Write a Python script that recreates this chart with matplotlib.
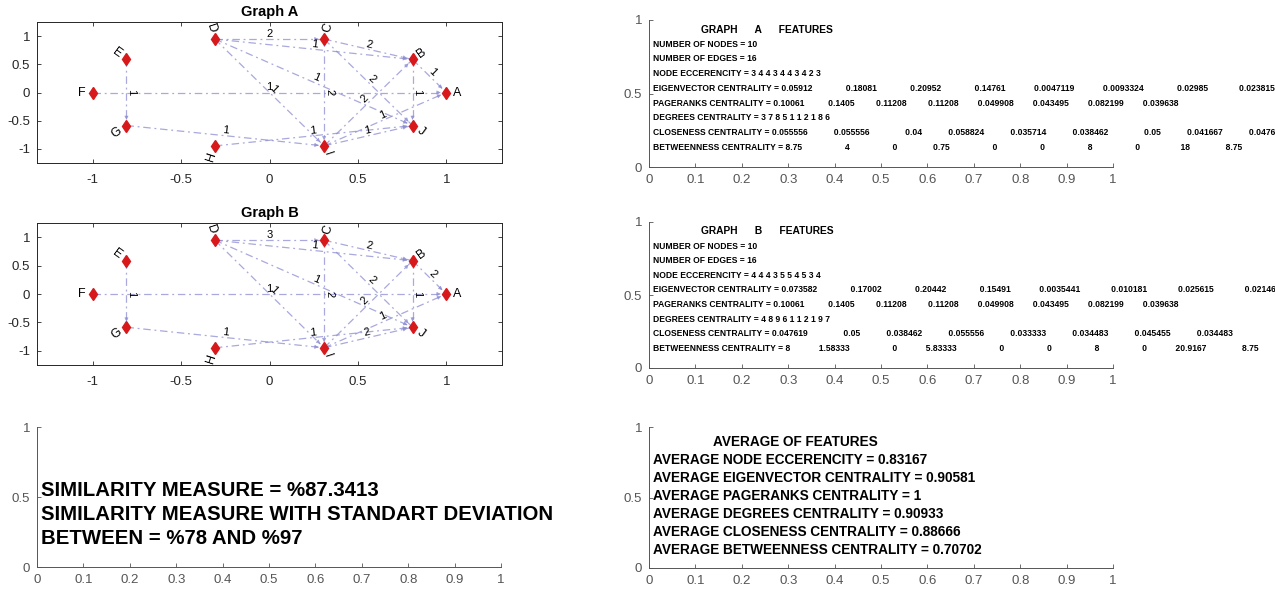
import numpy as np
import matplotlib
matplotlib.use('Agg')
import matplotlib.pyplot as plt
from matplotlib import font_manager

# ---- graph data (same edge list in both graphs, only weights differ) ----
nodes = ['A', 'B', 'C', 'D', 'E', 'F', 'G', 'H', 'I', 'J']
src = ['D', 'D', 'C', 'B', 'F', 'C', 'D', 'D', 'C', 'I', 'I', 'I', 'G', 'H', 'E', 'B']
dst = ['C', 'B', 'B', 'A', 'A', 'I', 'I', 'J', 'J', 'B', 'A', 'J', 'I', 'J', 'G', 'J']
weights_a = [2, 1, 2, 1, 1, 2, 1, 1, 2, 2, 1, 1, 1, 1, 1, 1]
weights_b = [3, 1, 2, 2, 1, 2, 1, 1, 2, 2, 1, 2, 1, 1, 1, 1]

# ---- features of graph A ----
n_nodes_a, n_edges_a = 10, 16
ecc_a = [3, 4, 4, 3, 4, 4, 3, 4, 2, 3]
eig_a = [0.05912, 0.18081, 0.20952, 0.14761, 0.0047119, 0.0093324, 0.02985, 0.023815]
pr_a = [0.10061, 0.1405, 0.11208, 0.11208, 0.049908, 0.043495, 0.082199, 0.039638]
deg_a = [3, 7, 8, 5, 1, 1, 2, 1, 8, 6]
clo_a = [0.055556, 0.055556, 0.04, 0.058824, 0.035714, 0.038462, 0.05, 0.041667, 0.047619]
btw_a = [8.75, 4, 0, 0.75, 0, 0, 8, 0, 18, 8.75]

# ---- features of graph B ----
n_nodes_b, n_edges_b = 10, 16
ecc_b = [4, 4, 4, 3, 5, 5, 4, 5, 3, 4]
eig_b = [0.073582, 0.17002, 0.20442, 0.15491, 0.0035441, 0.010181, 0.025615, 0.021463]
pr_b = [0.10061, 0.1405, 0.11208, 0.11208, 0.049908, 0.043495, 0.082199, 0.039638]
deg_b = [4, 8, 9, 6, 1, 1, 2, 1, 9, 7]
clo_b = [0.047619, 0.05, 0.038462, 0.055556, 0.033333, 0.034483, 0.045455, 0.034483]
btw_b = [8, 1.58333, 0, 5.83333, 0, 0, 8, 0, 20.9167, 8.75]

# ---- averages and similarity ----
avg_names = ['NODE ECCERENCITY', 'EIGENVECTOR CENTRALITY', 'PAGERANKS CENTRALITY',
             'DEGREES CENTRALITY', 'CLOSENESS CENTRALITY', 'BETWEENNESS CENTRALITY']
avg_vals = [0.83167, 0.90581, 1, 0.90933, 0.88666, 0.70702]
similarity = 87.3413
sim_low, sim_high = 78, 97

plt.rcParams['font.family'] = ['Liberation Sans', 'DejaVu Sans']
have = {f.name for f in font_manager.fontManager.ttflist}
if 'Liberation Sans Narrow' in have:
    NARROW, nscale = ['Liberation Sans Narrow', 'Liberation Sans'], 1.0
else:
    NARROW, nscale = ['Liberation Sans', 'DejaVu Sans'], 0.82

EDGE = '#8c8cd2'
NODE = '#d7191c'
AXC = '#262626'

W, H = 1275, 596
fig = plt.figure(figsize=(W / 100, H / 100), dpi=100)


def px_axes(x0, y0, x1, y1):
    return fig.add_axes([x0 / W, 1 - y1 / H, (x1 - x0) / W, (y1 - y0) / H])


def draw_graph(ax, weights, title):
    ax.set_xlim(-1.315, 1.315)
    ax.set_ylim(-1.255, 1.255)
    theta = 2 * np.pi * np.arange(len(nodes)) / len(nodes)
    pos = {n: (np.cos(t), np.sin(t)) for n, t in zip(nodes, theta)}
    for s, d, w in zip(src, dst, weights):
        x0, y0 = pos[s]
        x1, y1 = pos[d]
        ax.plot([x0, x1], [y0, y1], ls=(0, (6, 3, 1.5, 3)), color=EDGE, lw=0.9, alpha=0.75, zorder=1)
        p0 = ax.transData.transform((x0, y0))
        p1 = ax.transData.transform((x1, y1))
        u = (p1 - p0) / np.hypot(*(p1 - p0))
        ax.annotate('', xy=(x1, y1), xytext=(-u[0] * 7, -u[1] * 7), textcoords='offset points',
                    arrowprops=dict(arrowstyle='-|>', mutation_scale=6, shrinkA=0, shrinkB=4,
                                    lw=0.4, color=EDGE, alpha=0.75), zorder=1)
        ang = np.degrees(np.arctan2(y1 - y0, x1 - x0))
        ax.text((x0 + x1) / 2, (y0 + y1) / 2, str(w), rotation=ang, transform_rotates_text=True,
                rotation_mode='anchor', ha='center', va='bottom', fontsize=8, color='k')
    xs = [pos[n][0] for n in nodes]
    ys = [pos[n][1] for n in nodes]
    ax.plot(xs, ys, 'd', color=NODE, ms=6.5, zorder=3)
    for n, t in zip(nodes, theta):
        deg = np.degrees(t)
        if np.cos(t) > 0:
            rot, ha = (deg if deg <= 90 else deg - 360), 'left'
        else:
            rot, ha = deg - 180, 'right'
        ax.annotate(n, pos[n], xytext=(np.cos(t) * 5, np.sin(t) * 5), textcoords='offset points',
                    rotation=rot, rotation_mode='anchor', ha=ha, va='center', fontsize=9, color='k')
    ax.set_xticks([-1, -0.5, 0, 0.5, 1])
    ax.set_xticklabels(['-1', '-0.5', '0', '0.5', '1'])
    ax.set_yticks([-1, -0.5, 0, 0.5, 1])
    ax.set_yticklabels(['-1', '-0.5', '0', '0.5', '1'])
    ax.tick_params(direction='in', top=True, right=True, length=3, width=0.6,
                   labelsize=9.5, colors=AXC, pad=5)
    ax.tick_params(axis='x', pad=8)
    for sp in ax.spines.values():
        sp.set_color(AXC)
        sp.set_linewidth(0.7)
    ax.set_title(title, fontsize=10.5, fontweight='bold', pad=4)


def text_axes(ax):
    ax.set_xlim(0, 1)
    ax.set_ylim(0, 1)
    ax.spines['top'].set_visible(False)
    ax.spines['right'].set_visible(False)
    for sp in ('left', 'bottom'):
        ax.spines[sp].set_color('#555555')
        ax.spines[sp].set_linewidth(0.7)
    ax.set_xticks(np.arange(0, 1.01, 0.1))
    ax.set_xticklabels(['0', '0.1', '0.2', '0.3', '0.4', '0.5', '0.6', '0.7', '0.8', '0.9', '1'])
    ax.set_yticks([0, 0.5, 1])
    ax.set_yticklabels(['0', '0.5', '1'])
    ax.tick_params(direction='in', length=3, width=0.6, labelsize=9.5, colors='#555555', pad=5)


def row(vals, w, fmt):
    s = [fmt % v for v in vals]
    return s[0] + ''.join(v.rjust(w) for v in s[1:])


def features(ax, name, nn, ne, ecc, eig, pr, deg, clo, btw):
    text_axes(ax)
    lines = ['NUMBER OF NODES = %d' % nn,
             'NUMBER OF EDGES = %d' % ne,
             'NODE ECCERENCITY = ' + ' '.join(str(v) for v in ecc),
             'EIGENVECTOR CENTRALITY = ' + row(eig, 21, '%.5g'),
             'PAGERANKS CENTRALITY = ' + row(pr, 16, '%.5g'),
             'DEGREES CENTRALITY = ' + ' '.join(str(v) for v in deg),
             'CLOSENESS CENTRALITY = ' + row(clo, 19, '%.5g'),
             'BETWEENNESS CENTRALITY = ' + row(btw, 19, '%.6g')]
    fs = 7.5 * nscale
    ax.text(0.113, 0.935, 'GRAPH      %s      FEATURES' % name, family=NARROW,
            fontweight='bold', fontsize=fs * 1.2, va='center')
    for i, ln in enumerate(lines):
        ax.text(0.009, 0.835 - 0.1 * i, ln, family=NARROW, fontweight='bold',
                fontsize=fs, va='center')


# graph plots
draw_graph(px_axes(37, 22, 502, 163), weights_a, 'Graph A')
draw_graph(px_axes(37, 223, 502, 365), weights_b, 'Graph B')

# feature text panels
features(px_axes(649, 20, 1113, 167), 'A', n_nodes_a, n_edges_a, ecc_a, eig_a, pr_a, deg_a, clo_a, btw_a)
features(px_axes(649, 222, 1113, 368), 'B', n_nodes_b, n_edges_b, ecc_b, eig_b, pr_b, deg_b, clo_b, btw_b)

# similarity panel
ax = px_axes(37, 427, 501, 567)
text_axes(ax)
sim_lines = ['SIMILARITY MEASURE = %%%g' % similarity,
             'SIMILARITY MEASURE WITH STANDART DEVIATION',
             'BETWEEN = %%%d AND %%%d' % (sim_low, sim_high)]
for i, ln in enumerate(sim_lines):
    ax.text(0.009, 0.55 - 0.173 * i, ln, fontsize=14.7, fontweight='bold', va='center')

# average panel
ax = px_axes(649, 427, 1113, 568)
text_axes(ax)
afs = 11 * nscale * 1.09
ax.text(0.139, 0.895, 'AVERAGE OF FEATURES', family=NARROW, fontweight='bold',
        fontsize=afs, va='center')
for i, (nm, v) in enumerate(zip(avg_names, avg_vals)):
    ax.text(0.009, 0.767 - 0.128 * i, 'AVERAGE %s = %g' % (nm, v), family=NARROW,
            fontweight='bold', fontsize=afs, va='center')

fig.savefig('out.png', dpi=100)
